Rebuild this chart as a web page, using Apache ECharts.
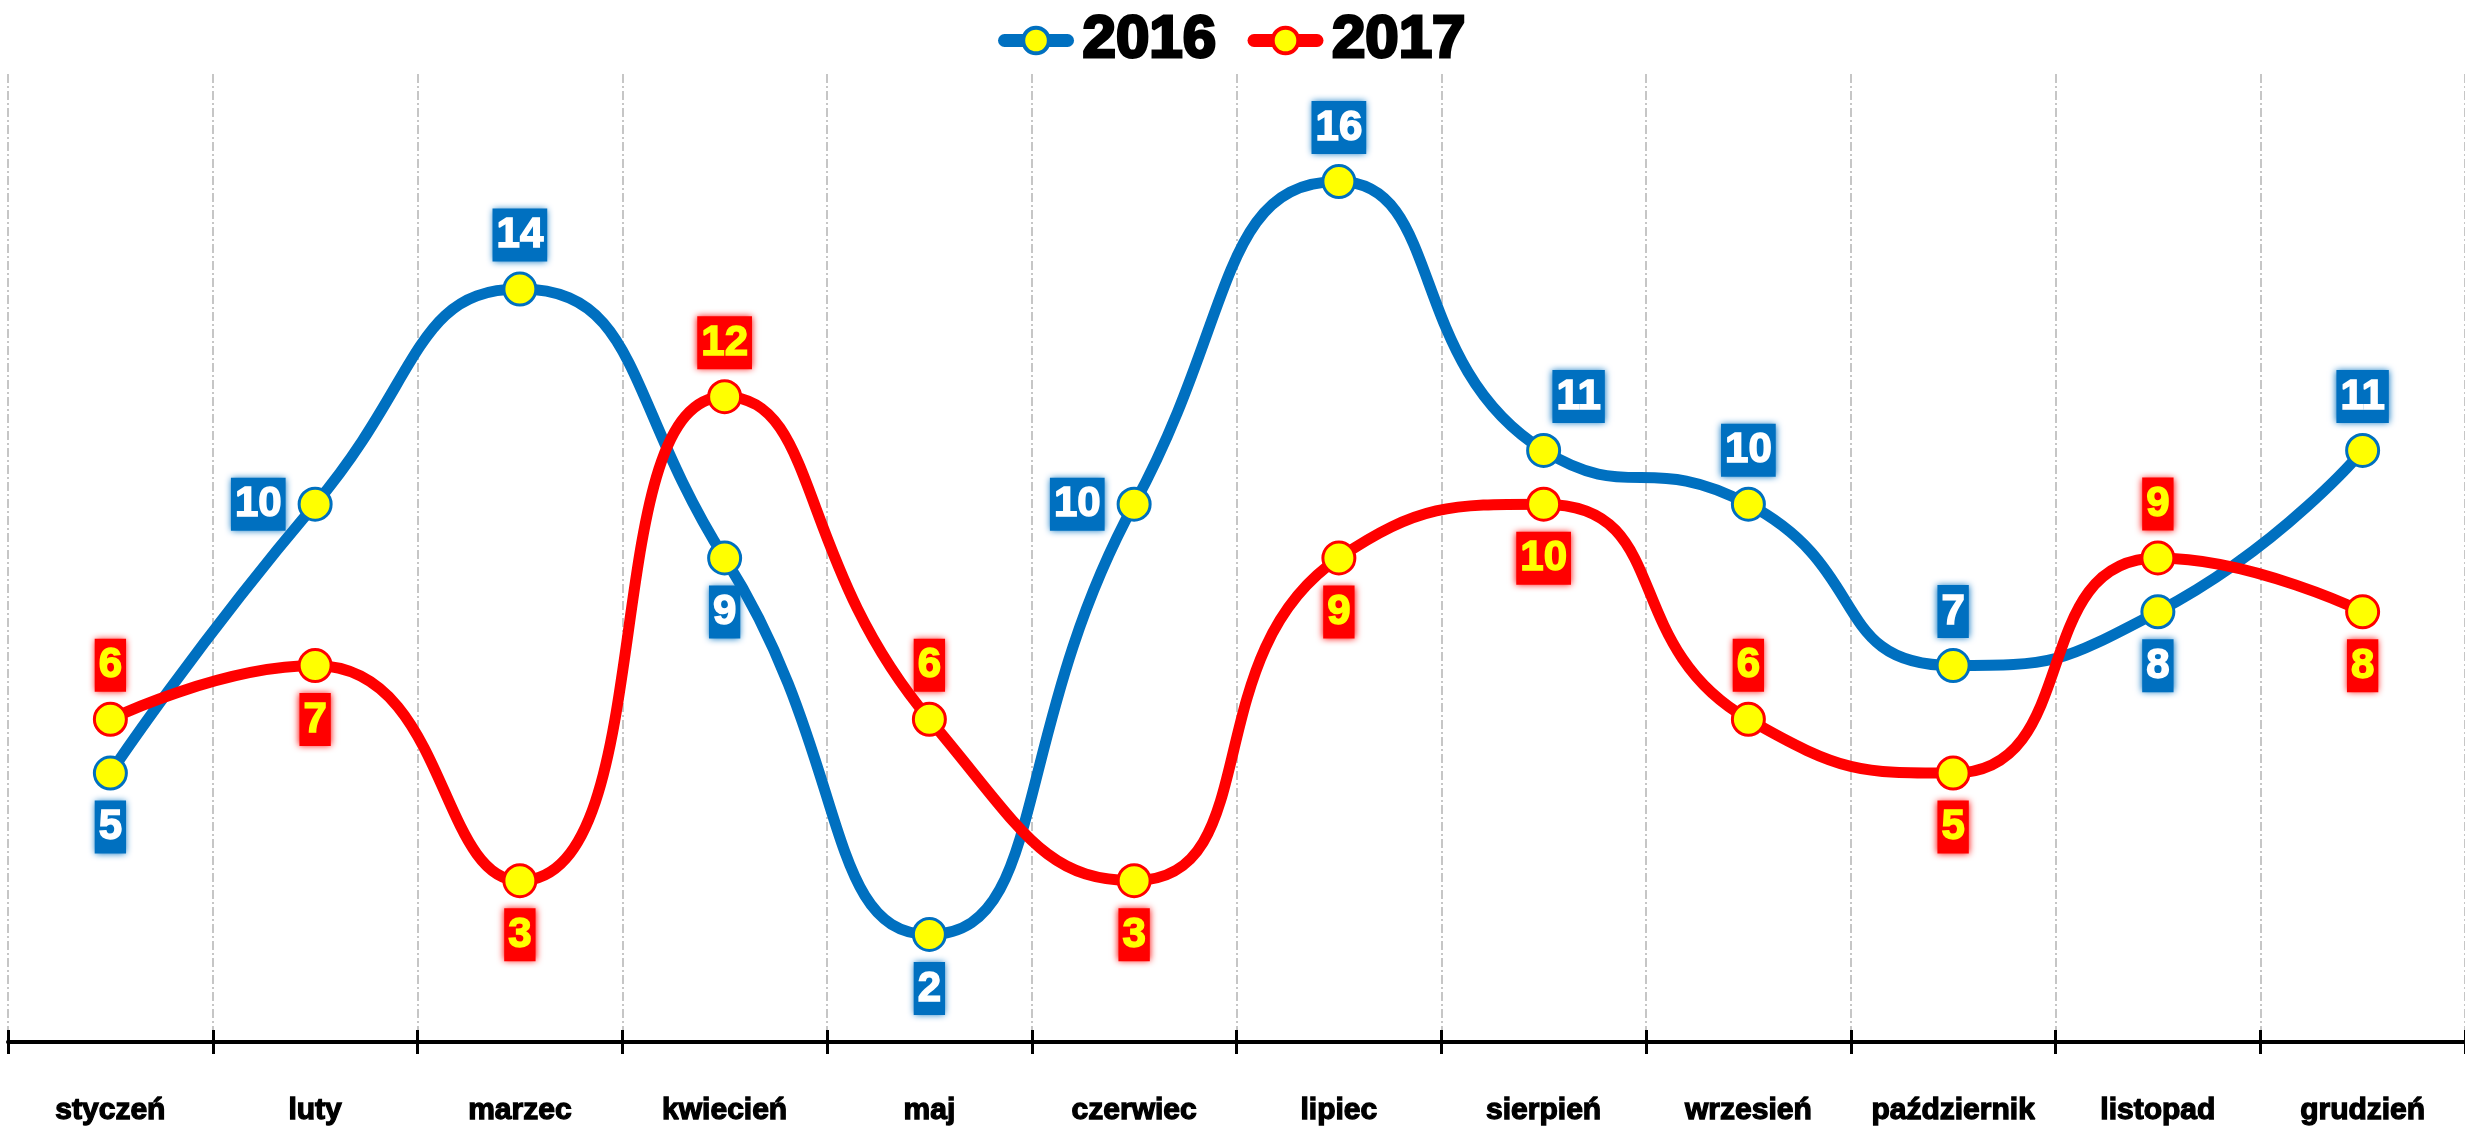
<!DOCTYPE html>
<html>
<head>
<meta charset="utf-8">
<script src="https://cdn.jsdelivr.net/npm/echarts@6/dist/echarts.min.js"></script>
<style>
html,body{margin:0;padding:0;background:#fff;}
#main{width:2465px;height:1134px;}
</style>
</head>
<body>
<div id="main"></div>
<script>
const months = ['styczeń','luty','marzec','kwiecień','maj','czerwiec','lipiec','sierpień','wrzesień','październik','listopad','grudzień'];
const values2016 = [5,10,14,9,2,10,16,11,10,7,8,11];
const values2017 = [6,7,3,12,6,3,9,10,6,5,9,8];
const labelPos2016 = ['bottom','left','top','bottom','bottom','left','top','topRight','top','top','bottom','top'];
const labelPos2017 = ['top','bottom','bottom','top','top','bottom','bottom','bottom','top','bottom','top','bottom'];

const BLUE = '#0070C0', RED = '#FF0000', YELLOW = '#FFFF00';
const FONT = '"Liberation Sans", Arial, sans-serif';

function makeData(vals, poss) {
  return vals.map((v, i) => {
    let p = poss[i];
    const lab = {};
    if (p === 'topRight') { lab.position = 'top'; lab.offset = [35, 0]; }
    else if (p === 'left') { lab.position = 'left'; lab.distance = 12; }
    else { lab.position = p; }
    return { value: v, label: lab };
  });
}

function labelBase(color, textColor) {
  return {
    show: true,
    distance: 10,
    color: textColor,
    fontFamily: FONT,
    fontWeight: 'bold',
    fontSize: 42,
    lineHeight: 44,
    textBorderColor: textColor,
    textBorderWidth: 1.5,
    backgroundColor: color,
    padding: [5, 4, 4, 4],
    shadowColor: color,
    shadowBlur: 7
  };
}

const chart = echarts.init(document.getElementById('main'));
chart.setOption({
  animation: false,
  backgroundColor: '#fff',
  legend: {
    top: 4,
    left: 'center',
    itemWidth: 63,
    itemHeight: 32,
    itemGap: 30,
    lineStyle: { width: 13, cap: 'round' },
    itemStyle: { borderWidth: 4 },
    textStyle: { fontFamily: FONT, fontWeight: 'bold', fontSize: 60, color: '#000', textBorderColor: '#000', textBorderWidth: 3, padding: [0, 0, 0, 10] },
    data: ['2016', '2017']
  },
  grid: { left: 8, right: 0, top: 74, bottom: 92, containLabel: false },
  xAxis: [{
    type: 'category',
    data: months,
    boundaryGap: true,
    axisLine: { show: true, lineStyle: { color: '#000', width: 4 } },
    axisTick: { show: true, inside: false, length: 12, lineStyle: { color: '#000', width: 3 } },
    axisLabel: { interval: 0, margin: 54, color: '#000', fontFamily: FONT, fontWeight: 'bold', fontSize: 30, textBorderColor: '#000', textBorderWidth: 1.3 },
    splitLine: { show: true, interval: 0, lineStyle: { color: '#b4b4b4', width: 1.5, type: [9, 3, 2, 3] } }
  }, {
    type: 'category',
    data: months,
    position: 'bottom',
    boundaryGap: true,
    axisLine: { show: false },
    axisTick: { show: true, inside: true, length: 12, lineStyle: { color: '#000', width: 3 } },
    axisLabel: { show: false },
    splitLine: { show: false }
  }],
  yAxis: {
    type: 'value',
    min: 0,
    max: 18,
    interval: 2,
    show: false,
    splitLine: { show: false }
  },
  series: [{
    name: '2016',
    type: 'line',
    smooth: 0.55,
    data: makeData(values2016, labelPos2016),
    symbol: 'circle',
    symbolSize: 32,
    lineStyle: { color: BLUE, width: 11 },
    itemStyle: { color: YELLOW, borderColor: BLUE, borderWidth: 3 },
    label: labelBase(BLUE, '#fff'),
    z: 2
  }, {
    name: '2017',
    type: 'line',
    smooth: 0.55,
    data: makeData(values2017, labelPos2017),
    symbol: 'circle',
    symbolSize: 32,
    lineStyle: { color: RED, width: 11 },
    itemStyle: { color: YELLOW, borderColor: RED, borderWidth: 3 },
    label: labelBase(RED, YELLOW),
    z: 3
  }]
});
</script>
</body>
</html>
